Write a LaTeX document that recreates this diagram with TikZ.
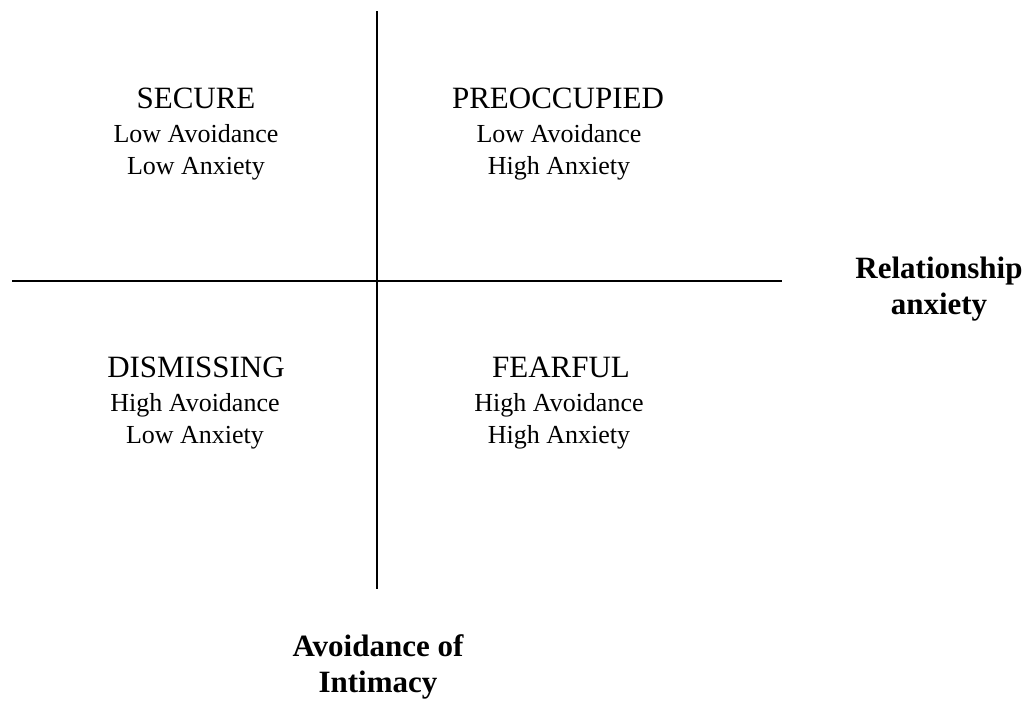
\documentclass[tikz,border=0pt]{standalone}
\usepackage{fontspec}
\setmainfont{Liberation Serif}
\begin{document}
\begin{tikzpicture}[x=1pt,y=-1pt,
  axis/.style={line width=1.6pt, black},
  head/.style={anchor=base, font=\fontsize{31}{35}\selectfont, inner sep=0pt},
  sub/.style={anchor=base, font=\fontsize{26}{30}\selectfont, inner sep=0pt},
  lab/.style={anchor=base, font=\fontsize{31}{36}\selectfont\bfseries, inner sep=0pt}]
\useasboundingbox (0,0) rectangle (1033,704);
\coordinate (vt) at (377,11);
\coordinate (vb) at (377,589);
\coordinate (hl) at (12,281);
\coordinate (hr) at (782,281);
\draw[axis] (vt) -- (vb);
\draw[axis] (hl) -- (hr);
% top left
\node[head] (s1) at (196,108) {SECURE};
\node[sub] (s2) at (196,142) {Low Avoidance};
\node[sub] (s3) at (196,174) {Low Anxiety};
% top right
\node[head] (p1) at (558,108) {PREOCCUPIED};
\node[sub] (p2) at (559,142) {Low Avoidance};
\node[sub] (p3) at (559,174) {High Anxiety};
% bottom left
\node[head] (d1) at (196,377) {DISMISSING};
\node[sub] (d2) at (195,411) {High Avoidance};
\node[sub] (d3) at (195,443) {Low Anxiety};
% bottom right
\node[head] (f1) at (561,377) {FEARFUL};
\node[sub] (f2) at (559,411) {High Avoidance};
\node[sub] (f3) at (559,443) {High Anxiety};
% axis labels
\node[lab] (r1) at (939,278) {Relationship};
\node[lab] (r2) at (939,314) {anxiety};
\node[lab] (a1) at (378,656) {Avoidance of};
\node[lab] (a2) at (378,692) {Intimacy};
\end{tikzpicture}
\end{document}
